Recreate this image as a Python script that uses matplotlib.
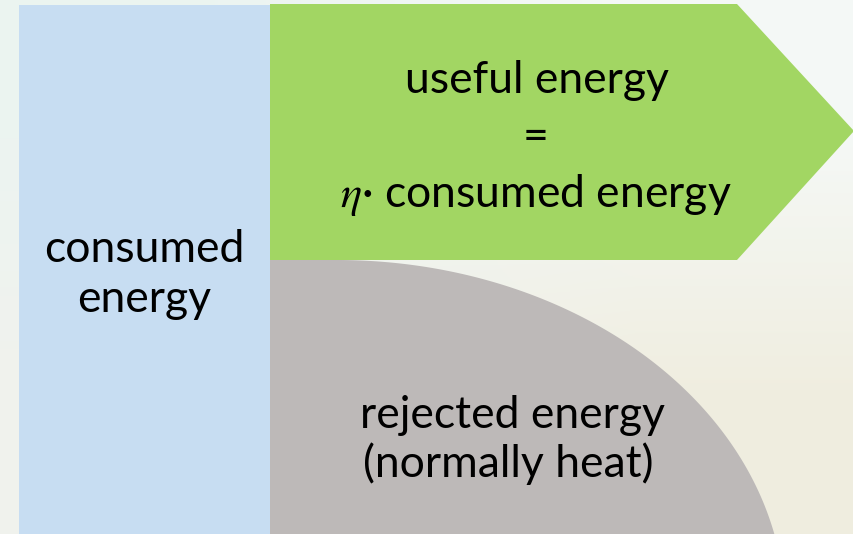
import matplotlib
matplotlib.use('Agg')
import matplotlib.pyplot as plt
import numpy as np
from matplotlib.patches import Polygon, Rectangle

W, H = 854, 534

# ---- diagram content ----
left_lines = ["consumed", "energy"]
useful_lines = ["useful energy", "=", r"$\eta$· consumed energy"]
rejected_lines = ["rejected energy", "(normally heat)"]

# ---- geometry (pixel units) ----
blue_box = dict(x0=19, y0=5, x1=270, y1=H + 5)
green_arrow = [(270, 4), (737, 4), (854, 131), (737, 260), (270, 260)]
ell_cx, ell_cy, ell_a, ell_b = 337, 610, 448, 350

plt.rcParams['mathtext.fontset'] = 'stix'
fig = plt.figure(figsize=(8.54, 5.34), dpi=100)
ax = fig.add_axes([0, 0, 1, 1])

# background gradient
tl = (0.925, 0.957, 0.945)
tr = (0.96, 0.975, 0.966)
bl = (0.945, 0.95, 0.93)
br = (0.94, 0.93, 0.875)
grid = np.array([[tl, tr], [bl, br]])
ax.imshow(grid, extent=(0, W, H, 0), interpolation='bilinear', aspect='auto', zorder=0)

ax.add_patch(Rectangle((blue_box['x0'], blue_box['y0']),
                       blue_box['x1'] - blue_box['x0'], blue_box['y1'] - blue_box['y0'],
                       facecolor='#C7DDF2', edgecolor='none', zorder=1))
ax.add_patch(Polygon(green_arrow, closed=True, facecolor='#A2D663', edgecolor='none', zorder=1))

y_end = H + 6
t_end = np.arcsin((ell_cy - y_end) / ell_b)
t = np.linspace(np.pi / 2, t_end, 200)
arc = np.column_stack([ell_cx + ell_a * np.cos(t), ell_cy - ell_b * np.sin(t)])
gray_pts = np.vstack([[(270, y_end), (270, 260)], arc, [(arc[-1, 0], y_end)]])
ax.add_patch(Polygon(gray_pts, closed=True, facecolor='#BDB9B8', edgecolor='none', zorder=1))

font = dict(family='Lato', fontsize=32, color='black', ha='center', va='baseline', zorder=3)
for txt, (x, y) in zip(left_lines, [(144.5, 262.5), (144.5, 312.5)]):
    ax.text(x, y, txt, **font)
for txt, (x, y) in zip(useful_lines, [(537, 93), (536, 150), (536, 207)]):
    ax.text(x, y, txt, **font)
for txt, (x, y) in zip(rejected_lines, [(513, 428), (508, 477)]):
    ax.text(x, y, txt, **font)

ax.set_xlim(0, W)
ax.set_ylim(H, 0)
ax.axis('off')
fig.savefig('out.png', dpi=100)
